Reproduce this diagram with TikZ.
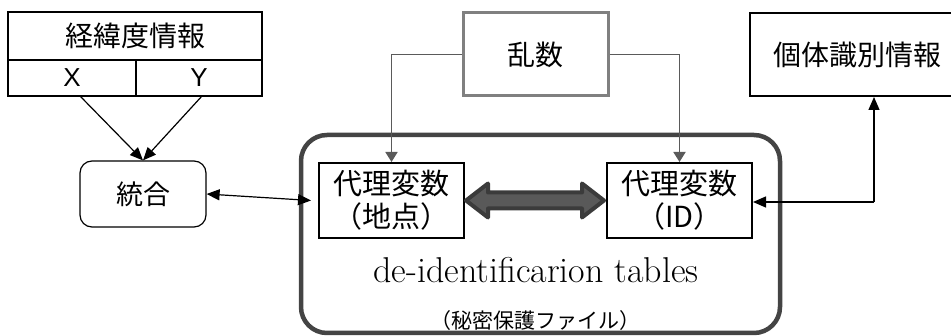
\documentclass[tikz,border=0pt]{standalone}
\usepackage{fontspec}
\newfontfamily\jp{Noto Sans CJK JP}
\newfontfamily\lsans{Liberation Sans}
\newfontfamily\lmser{Latin Modern Roman}
\usetikzlibrary{arrows.meta,calc}
\definecolor{frame}{HTML}{444444}
\definecolor{rgray}{HTML}{5A5A5A}
\definecolor{dashgray}{HTML}{808080}
\definecolor{dblfill}{HTML}{595959}
\definecolor{dbledge}{HTML}{3B3B3B}
\begin{document}
\begin{tikzpicture}[x=1pt,y=-1pt,
  box/.style={draw=black, line width=2pt, fill=white, inner sep=0pt, align=center,
    font=\jp\fontsize{28}{32}\selectfont},
  cell/.style={draw=black, line width=2pt, inner sep=0pt, font=\lsans\fontsize{26}{28}\selectfont},
  conn/.style={line width=1.2pt, black},
  blk/.style={-{Triangle[length=13pt,width=11pt]}},
  gconn/.style={line width=1.8pt, rgray, -{Triangle[length=10pt,width=12pt]}},
  dbl/.style={fill=dblfill, draw=dbledge, line width=4pt, line join=round},
]
\useasboundingbox (0,0) rectangle (951,336);

% container
\node[draw=frame, line width=4.5pt, rounded corners=26pt, minimum width=479pt, minimum height=198pt, inner sep=0pt] (tbl) at (540.5,234) {};
\node[inner sep=0pt] (tbltext) at (536,270) {\resizebox{325pt}{!}{\lmser\fontsize{26}{30}\selectfont de-identificarion tables}};
\node[font=\jp\fontsize{21}{24}\selectfont] (tblsub) at (535,321) {（秘密保護ファイル）};

% lat/long table
\node[box, minimum width=254pt, minimum height=48pt] (ll) at (135,36) {経緯度情報};
\node[cell, minimum width=128pt, minimum height=36pt] (x) at (72,78) {X};
\node[cell, minimum width=126pt, minimum height=36pt] (y) at (199,78) {Y};

% integrate
\node[box, line width=1.2pt, rounded corners=12pt, minimum width=126pt, minimum height=66pt, font=\jp\fontsize{27}{30}\selectfont] (int) at (143,194) {統合};

% random
\node[box, draw=dashgray, line width=3pt, minimum width=145pt, minimum height=83pt] (rnd) at (535.5,54.5) {乱数};

% individual id
\node[box, minimum width=214pt, minimum height=83pt] (ind) at (857,54.5) {個体識別情報};

% surrogate boxes
\node[box, minimum width=145pt, minimum height=75pt, font=\jp\fontsize{29}{33}\selectfont] (p) at (391.5,200.5) {代理変数\\（地点）};
\node[box, minimum width=145pt, minimum height=75pt, font=\jp\fontsize{29}{33}\selectfont] (id) at (679.5,200.5) {代理変数\\（ID）};

% connectors
\draw[conn, blk] (80,96) -- (int.north);
\draw[conn, blk] (202,96) -- (int.north);
\draw[conn, {Triangle[length=13pt,width=11pt]}-{Triangle[length=13pt,width=11pt]}] (int.east) -- ([xshift=-7pt]p.west);

\draw[gconn] (rnd.west) -| (p.north);
\draw[gconn] (rnd.east) -| (id.north);

\coordinate (c) at (874,202);
\draw[conn, blk] (c) -- (c |- ind.south);
\draw[conn, blk] (c) -- (c -| id.east);

% double arrow
\draw[dbl] ([xshift=1pt]p.east) -- ++(22,-17) -- ++(0,9)
  -- ([xshift=-24pt,yshift=8pt]id.west) -- ++(0,-9)
  -- ([xshift=-2pt]id.west) -- ++(-22,17) -- ++(0,-9)
  -- ([xshift=23pt,yshift=-8pt]p.east) -- ++(0,9) -- cycle;
\end{tikzpicture}
\end{document}
